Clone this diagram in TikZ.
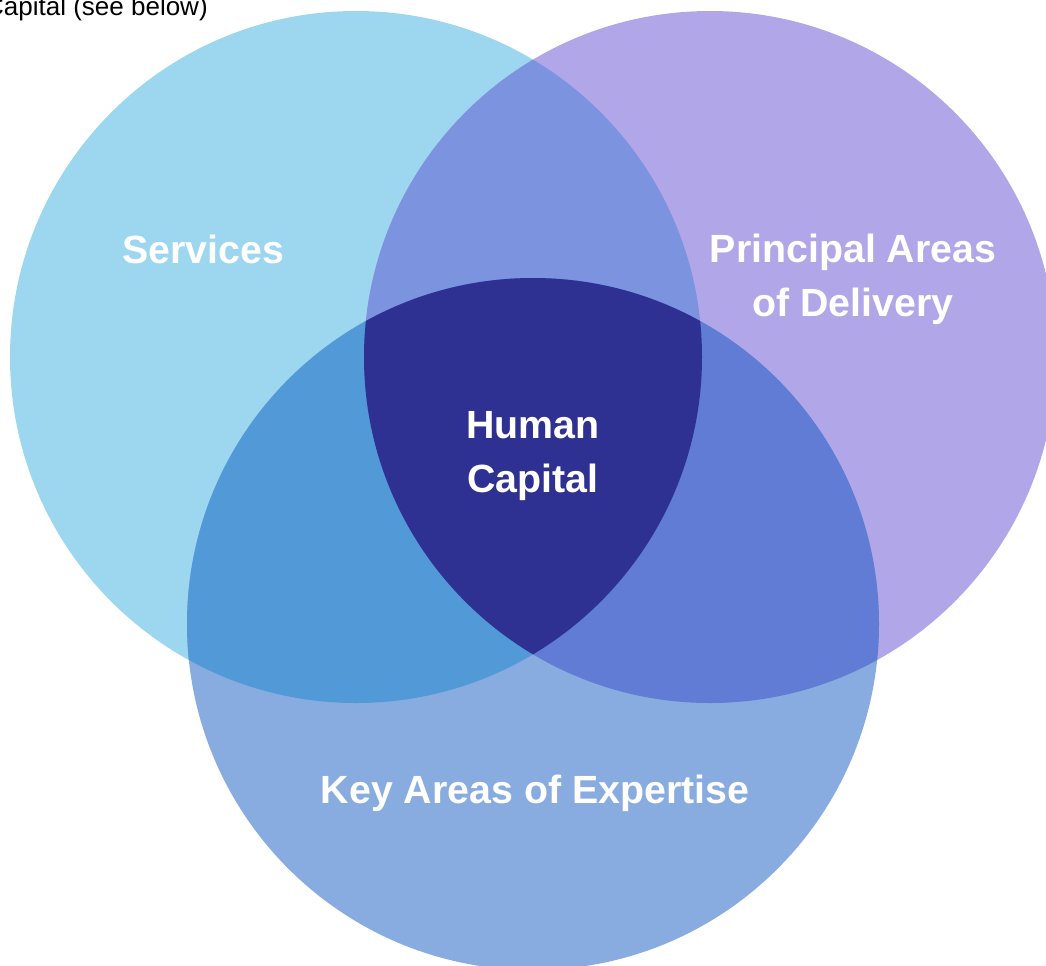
\documentclass[tikz,border=0pt]{standalone}
\usepackage{fontspec}
\setmainfont{Liberation Sans}
\usetikzlibrary{positioning}
\definecolor{servcol}{HTML}{9CD6EF}
\definecolor{delcol}{HTML}{B0A6E8}
\definecolor{expcol}{HTML}{88ACDF}
\definecolor{servdelcol}{HTML}{7C93E0}
\definecolor{servexpcol}{HTML}{5299D8}
\definecolor{delexpcol}{HTML}{607CD4}
\definecolor{humcol}{HTML}{2E3192}

\begin{document}
\begin{tikzpicture}[x=0.75pt,y=0.75pt,
		lbl/.style={text=white,font=\bfseries\fontsize{29.5}{40.5}\selectfont,align=center,inner sep=0pt}]
		\useasboundingbox (0,0) rectangle (1046,-965);
		\clip (0,0) rectangle (1046,-965);
		\coordinate (cserv) at (356,-357);
		\coordinate (cdel) at (710,-357);
		\coordinate (cexp) at (533,-624);
		\fill[servcol] (cserv) circle (346);
		\fill[delcol] (cdel) circle (346);
		\fill[expcol] (cexp) circle (346);
		\begin{scope}
			\clip (cserv) circle (346);
			\fill[servdelcol] (cdel) circle (346);
			\fill[servexpcol] (cexp) circle (346);
		\end{scope}
		\begin{scope}
			\clip (cdel) circle (346);
			\fill[delexpcol] (cexp) circle (346);
			\clip (cserv) circle (346);
			\fill[humcol] (cexp) circle (346);
		\end{scope}
		%\draw[red] (cserv) circle (346);
		\node[anchor=base east,inner sep=0pt,font=\fontsize{19.5}{22}\selectfont] (note) at (208,-15) {Capital (see below)};
		\node[lbl,anchor=base] (serv) at (203,-263) {Services};
		\node[lbl,anchor=base] (del) at (853,-316) {Principal Areas\\of Delivery};
		\node[lbl,anchor=base] (hum) at (533,-492) {Human\\Capital};
		\node[lbl,anchor=base] (exp) at (535,-803) {Key Areas of Expertise};
	\end{tikzpicture}
\end{document}
